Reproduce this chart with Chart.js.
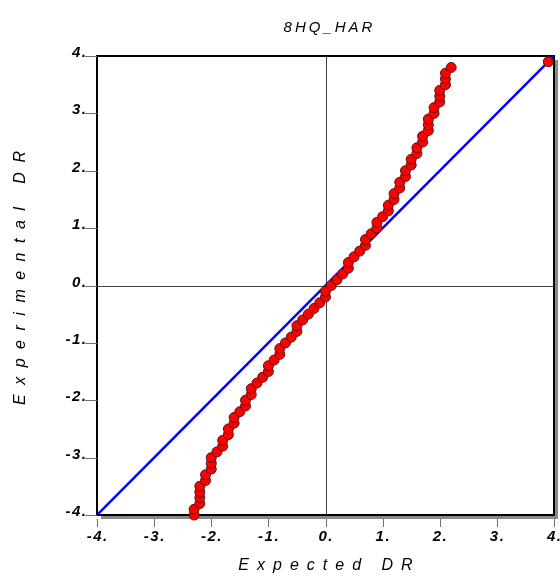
<!DOCTYPE html>
<html>
<head>
<meta charset="utf-8">
<script src="https://cdn.jsdelivr.net/npm/chart.js@4.4.1/dist/chart.umd.min.js"></script>
<style>
  body { margin: 0; background: #fff; }
  #wrap { width: 560px; height: 578px; position: relative; }
</style>
</head>
<body>
<div id="wrap"><canvas id="qqChart"></canvas></div>
<script>
// Data
const chartTitle = '8HQ_HAR';
const xTitle = 'Expected DR';
const yTitle = 'Experimental DR';

const expectedDR = [
  -2.3, -2.3, -2.2, -2.2, -2.2, -2.2, -2.1, -2.1, -2.0, -2.0,
  -2.0, -1.9, -1.8, -1.8, -1.7, -1.7, -1.6, -1.6, -1.5, -1.4,
  -1.4, -1.3, -1.3, -1.2, -1.1, -1.0, -1.0, -0.9, -0.8, -0.8,
  -0.7, -0.6, -0.5, -0.5, -0.4, -0.3, -0.2, -0.1, 0.0, 0.0,
  0.1, 0.2, 0.3, 0.4, 0.4, 0.5, 0.6, 0.7, 0.7, 0.8,
  0.9, 0.9, 1.0, 1.1, 1.1, 1.2, 1.2, 1.3, 1.3, 1.4,
  1.4, 1.5, 1.5, 1.6, 1.6, 1.7, 1.7, 1.8, 1.8, 1.8,
  1.9, 1.9, 2.0, 2.0, 2.0, 2.1, 2.1, 2.1, 2.2, 3.9
];
const experimentalDR = [
  -4.0, -3.9, -3.8, -3.7, -3.6, -3.5, -3.4, -3.3, -3.2, -3.1,
  -3.0, -2.9, -2.8, -2.7, -2.6, -2.5, -2.4, -2.3, -2.2, -2.1,
  -2.0, -1.9, -1.8, -1.7, -1.6, -1.5, -1.4, -1.3, -1.2, -1.1,
  -1.0, -0.9, -0.8, -0.7, -0.6, -0.5, -0.4, -0.3, -0.2, -0.1,
  0.0, 0.1, 0.2, 0.3, 0.4, 0.5, 0.6, 0.7, 0.8, 0.9,
  1.0, 1.1, 1.2, 1.3, 1.4, 1.5, 1.6, 1.7, 1.8, 1.9,
  2.0, 2.1, 2.2, 2.3, 2.4, 2.5, 2.6, 2.7, 2.8, 2.9,
  3.0, 3.1, 3.2, 3.3, 3.4, 3.5, 3.6, 3.7, 3.8, 3.9
];

// identity line
const diagX = [-4, 4];
const diagY = [-4, 4];

const tickValues = [-4, -3, -2, -1, 0, 1, 2, 3, 4];
const tickLabels = ['-4.', '-3.', '-2.', '-1.', '0.', '1.', '2.', '3.', '4.'];

// draw text one char at a time with extra spacing, centred on x
function spacedText(ctx, text, x, y, gap) {
  const chars = text.split('');
  let total = 0;
  chars.forEach(function (c) { total += ctx.measureText(c).width; });
  total += gap * (chars.length - 1);
  let cx = x - total / 2;
  ctx.textAlign = 'left';
  chars.forEach(function (c) {
    ctx.fillText(c, cx, y);
    cx += ctx.measureText(c).width + gap;
  });
  return total;
}

function spacedRight(ctx, text, x, y, gap) {
  const chars = text.split('');
  let total = 0;
  chars.forEach(function (c) { total += ctx.measureText(c).width; });
  total += gap * (chars.length - 1);
  spacedText(ctx, text, x - total / 2, y, gap);
}

const framePlugin = {
  id: 'framePlugin',
  beforeDatasetsDraw(chart) {
    const ctx = chart.ctx;
    const a = chart.chartArea;
    const xs = chart.scales.x, ys = chart.scales.y;
    ctx.save();
    // drop shadow
    ctx.fillStyle = '#8a8a8a';
    ctx.fillRect(a.left + 4, a.top + 4, a.right - a.left, a.bottom - a.top);
    ctx.fillStyle = '#ffffff';
    ctx.fillRect(a.left, a.top, a.right - a.left, a.bottom - a.top);
    // crosshair at zero
    ctx.strokeStyle = '#404040';
    ctx.lineWidth = 1;
    const x0 = Math.round(xs.getPixelForValue(0)) + 0.5;
    const y0 = Math.round(ys.getPixelForValue(0)) + 0.5;
    ctx.beginPath();
    ctx.moveTo(x0, a.top); ctx.lineTo(x0, a.bottom);
    ctx.moveTo(a.left, y0); ctx.lineTo(a.right, y0);
    ctx.stroke();
    // frame
    ctx.strokeStyle = '#000000';
    ctx.lineWidth = 2;
    ctx.strokeRect(a.left, a.top, a.right - a.left, a.bottom - a.top);
    ctx.restore();
  },
  afterDraw(chart) {
    const ctx = chart.ctx;
    const a = chart.chartArea;
    const xs = chart.scales.x, ys = chart.scales.y;
    ctx.save();
    // tick marks
    ctx.strokeStyle = '#707070';
    ctx.lineWidth = 1;
    ctx.beginPath();
    tickValues.forEach(function (v) {
      const px = Math.round(xs.getPixelForValue(v)) + 0.5;
      ctx.moveTo(px, a.bottom + 4); ctx.lineTo(px, a.bottom + 12);
      const py = Math.round(ys.getPixelForValue(v)) + 0.5;
      ctx.moveTo(a.left - 12, py); ctx.lineTo(a.left, py);
    });
    ctx.stroke();
    // tick labels
    ctx.fillStyle = '#000000';
    ctx.font = 'italic bold 15px "Liberation Sans", Arial, sans-serif';
    tickValues.forEach(function (v, i) {
      ctx.textBaseline = 'middle';
      spacedText(ctx, tickLabels[i], xs.getPixelForValue(v), a.bottom + 22, 1.5);
      ctx.textBaseline = 'alphabetic';
      spacedRight(ctx, tickLabels[i], a.left - 11, ys.getPixelForValue(v) + 1, 1.5);
    });
    // axis titles
    ctx.font = 'italic 16px "Liberation Sans", Arial, sans-serif';
    ctx.textBaseline = 'middle';
    spacedText(ctx, xTitle, (a.left + a.right) / 2, 566, 8);
    ctx.translate(21, 278);
    ctx.rotate(-Math.PI / 2);
    spacedText(ctx, yTitle, 0, 0, 9.5);
    ctx.setTransform(1, 0, 0, 1, 0, 0);
    // chart title
    ctx.font = 'italic 15px "Liberation Sans", Arial, sans-serif';
    spacedText(ctx, chartTitle, 328, 28, 3);
    ctx.restore();
  }
};

new Chart(document.getElementById('qqChart'), {
  type: 'scatter',
  data: {
    datasets: [
      {
        label: 'DR',
        data: expectedDR.map(function (x, i) { return { x: x, y: experimentalDR[i] }; }),
        backgroundColor: '#ff0000',
        borderColor: '#5a1515',
        borderWidth: 1,
        pointRadius: 5,
        pointHoverRadius: 5,
        clip: false,
        order: 0
      },
      {
        label: 'y = x',
        type: 'line',
        data: diagX.map(function (x, i) { return { x: x, y: diagY[i] }; }),
        borderColor: '#0000ff',
        borderWidth: 2.5,
        pointRadius: 0,
        fill: false,
        order: 1
      }
    ]
  },
  options: {
    responsive: true,
    maintainAspectRatio: false,
    animation: false,
    events: [],
    layout: { padding: { left: 97, top: 56, right: 5, bottom: 63 } },
    plugins: {
      legend: { display: false },
      title: { display: false },
      tooltip: { enabled: false }
    },
    scales: {
      x: { type: 'linear', min: -4, max: 4, display: false },
      y: { type: 'linear', min: -4, max: 4, display: false }
    }
  },
  plugins: [framePlugin]
});
</script>
</body>
</html>
